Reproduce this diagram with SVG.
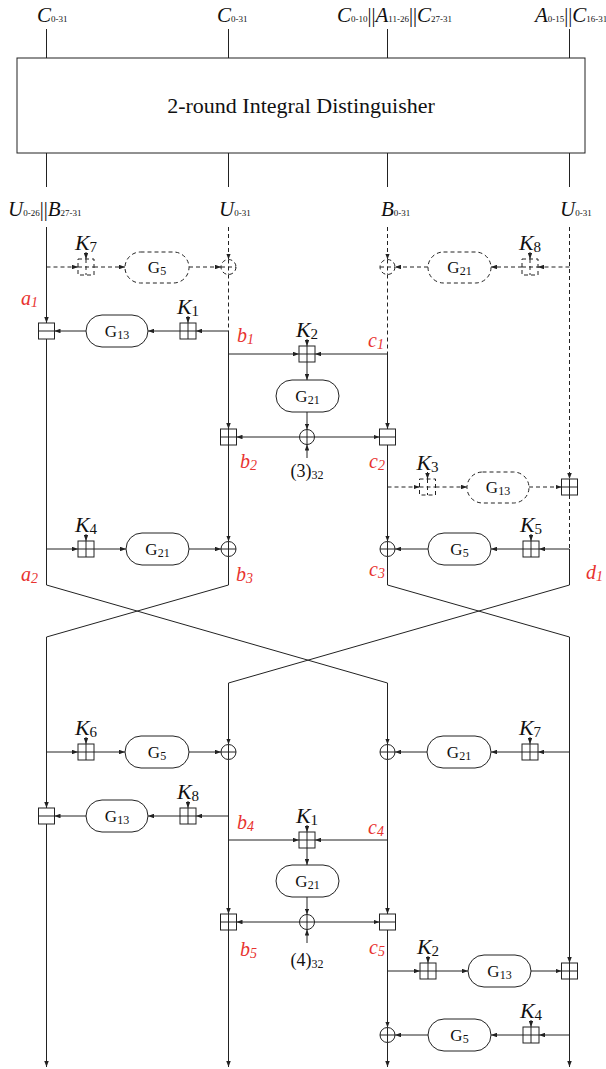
<svg xmlns="http://www.w3.org/2000/svg" xmlns:xlink="http://www.w3.org/1999/xlink" width="606" height="1069" viewBox="0 0 606 1069" font-family="'Liberation Serif','DejaVu Serif',serif">
<style>
.ln{fill:none;stroke:#222;stroke-width:1}
.ar{marker-end:url(#ah)}
.da{stroke-dasharray:4 3}
.nd{fill:#fff;stroke:#222;stroke-width:1}
text{font-family:'Liberation Serif','DejaVu Serif',serif;fill:#111}
.sc{font-size:21px;font-style:italic}
.ss{font-size:9px;font-style:normal}
.bar{font-style:normal;font-size:20px}
.k{font-size:22px;font-style:italic;text-anchor:middle}
.ks{font-size:15px;font-style:normal}
.g{font-size:17px;text-anchor:middle}
.gs{font-size:12px}
.r{font-size:20px;font-style:italic;fill:#e8332f}
.rs{font-size:14px}
.c{font-size:18px;text-anchor:middle}
.cs{font-size:12px}
</style>
<defs>
<marker id="ah" viewBox="0 0 8 6" refX="8" refY="3" markerWidth="6" markerHeight="4.5" markerUnits="userSpaceOnUse" orient="auto"><path d="M0,0L8,3L0,6z" fill="#222"/></marker>
<g id="add"><rect x="-8" y="-8" width="16" height="16"/><path d="M0,-8V8M-8,0H8"/></g>
<g id="sub"><rect x="-8" y="-8" width="16" height="16"/><path d="M-8,0H8"/></g>
<g id="xor"><circle r="7.5"/><path d="M0,-7.5V7.5M-7.5,0H7.5"/></g>
</defs>
<rect width="606" height="1069" fill="#fff"/>

<g id="distinguisher">
<rect x="17" y="58" width="568" height="95" class="nd"/>
<text x="301" y="113" font-size="22" text-anchor="middle">2-round Integral Distinguisher</text>
</g>

<g id="top-labels">
<text x="37" y="22" class="sc">C<tspan class="ss">0-31</tspan></text>
<text x="217" y="22" class="sc">C<tspan class="ss">0-31</tspan></text>
<text x="337" y="22" class="sc">C<tspan class="ss">0-10</tspan><tspan class="bar">||</tspan>A<tspan class="ss">11-26</tspan><tspan class="bar">||</tspan>C<tspan class="ss">27-31</tspan></text>
<text x="535" y="22" class="sc">A<tspan class="ss">0-15</tspan><tspan class="bar">||</tspan>C<tspan class="ss">16-31</tspan></text>
</g>
<g id="mid-labels">
<text x="8" y="216" class="sc">U<tspan class="ss">0-26</tspan><tspan class="bar">||</tspan>B<tspan class="ss">27-31</tspan></text>
<text x="219" y="216" class="sc">U<tspan class="ss">0-31</tspan></text>
<text x="381" y="216" class="sc">B<tspan class="ss">0-31</tspan></text>
<text x="560" y="216" class="sc">U<tspan class="ss">0-31</tspan></text>
</g>

<g id="connectors">
<g class="ln">
<path d="M46.5,29V58M228.5,29V58M387.5,29V58M569.5,29V58M46.5,153V187M228.5,153V187M387.5,153V187M569.5,153V187"/>
<path d="M46.5,339V585M228.5,556.5V585M387.5,556.5V585M569.5,549V585"/>
<path d="M46.5,585L387.5,683M228.5,585L46.5,637M387.5,585L569.5,637M569.5,585L228.5,683"/>
</g>
<g class="ln ar">
<path d="M46.5,227V323"/>
<path d="M228.5,331H196"/><path d="M180,331H148"/><path d="M86,331H54.5"/>
<path d="M228.5,331V429"/><path d="M228.5,445V541.5"/>
<path d="M228.5,354H299"/><path d="M387.5,354H315"/>
<path d="M307,362V380"/><path d="M307,412V429.5"/>
<path d="M299.5,437H236.5"/><path d="M314.5,437H379.5"/><path d="M307,458V444.5"/>
<path d="M387.5,354V429"/><path d="M387.5,445V541.5"/>
<path d="M46.5,549H78"/><path d="M94,549H126"/><path d="M189,549H221"/>
<path d="M569.5,549H539"/><path d="M523,549H491"/><path d="M428,549H395"/>
<path d="M188,316V323"/><path d="M307,339V346"/><path d="M86,534V541"/><path d="M531,534V541"/>
<path d="M86,252V259"/><path d="M530,252V259"/><path d="M427.5,472V479"/>
</g>
<g class="ln da">
<path d="M228.5,274.5V331M387.5,274.5V354M569.5,495V549"/>
</g>
<g class="ln da ar">
<path d="M228.5,227V259.5"/><path d="M387.5,227V259.5"/><path d="M569.5,227V479"/>
<path d="M46.5,267H78"/><path d="M94,267H125"/><path d="M189,267H221"/>
<path d="M569.5,267H538"/><path d="M522,267H491"/><path d="M428,267H395"/>
<path d="M387.5,487H419.5"/><path d="M435.5,487H467"/><path d="M529,487H561.5"/>
</g>
<g class="ln ar">
<path d="M46.5,637V808"/><path d="M46.5,824V1067"/>
<path d="M228.5,683V744.5"/><path d="M228.5,759.5V914"/><path d="M228.5,930V1067"/>
<path d="M387.5,683V744.5"/><path d="M387.5,759.5V914"/><path d="M387.5,930V1027.5"/><path d="M387.5,1042.5V1067"/>
<path d="M569.5,637V963"/><path d="M569.5,979V1067"/>
<path d="M46.5,752H78"/><path d="M94,752H125"/><path d="M189,752H221"/>
<path d="M569.5,752H538"/><path d="M522,752H491"/><path d="M427,752H395"/>
<path d="M228.5,816H196"/><path d="M180,816H148"/><path d="M86,816H54.5"/>
<path d="M228.5,840H299"/><path d="M387.5,840H315"/>
<path d="M307,848V865"/><path d="M307,897V914.5"/>
<path d="M299.5,922H236.5"/><path d="M314.5,922H379.5"/><path d="M307,943V929.5"/>
<path d="M387.5,971H420"/><path d="M436,971H468"/><path d="M531,971H561.5"/>
<path d="M569.5,1035H539"/><path d="M523,1035H491"/><path d="M428,1035H395"/>
<path d="M86,737V744"/><path d="M530,737V744"/><path d="M188,801V808"/><path d="M307,825V832"/>
<path d="M428,956V963"/><path d="M531,1020V1027"/>
</g>
</g>

<g id="k7a"><use xlink:href="#add" x="86" y="267" class="nd da"/><text x="86" y="250" class="k">K<tspan class="ks" dy="2">7</tspan></text></g>
<g id="g5a"><rect x="125" y="252" width="64" height="31" rx="15.5" class="nd da"/><text x="157" y="273" class="g">G<tspan class="gs" dy="2">5</tspan></text></g>
<g id="xa"><use xlink:href="#xor" x="228.5" y="267" class="nd da"/></g>
<g id="xb"><use xlink:href="#xor" x="387.5" y="267" class="nd da"/></g>
<g id="g21a"><rect x="428" y="252" width="63" height="31" rx="15.5" class="nd da"/><text x="459.5" y="273" class="g">G<tspan class="gs" dy="2">21</tspan></text></g>
<g id="k8a"><use xlink:href="#add" x="530" y="267" class="nd da"/><text x="530" y="250" class="k">K<tspan class="ks" dy="2">8</tspan></text></g>

<g id="suba1"><use xlink:href="#sub" x="46.5" y="331" class="nd"/></g>
<g id="g13a"><rect x="86" y="315" width="62" height="32" rx="16" class="nd"/><text x="117" y="337" class="g">G<tspan class="gs" dy="2">13</tspan></text></g>
<g id="k1a"><use xlink:href="#add" x="188" y="331" class="nd"/><text x="188" y="314" class="k">K<tspan class="ks" dy="2">1</tspan></text></g>

<g id="k2a"><use xlink:href="#add" x="307" y="354" class="nd"/><text x="307" y="337" class="k">K<tspan class="ks" dy="2">2</tspan></text></g>
<g id="g21b"><rect x="276" y="380" width="63" height="32" rx="16" class="nd"/><text x="307.5" y="402" class="g">G<tspan class="gs" dy="2">21</tspan></text></g>
<g id="xc"><use xlink:href="#xor" x="307" y="437" class="nd"/></g>
<g id="const3"><text x="307" y="477" class="c">(3)<tspan class="cs" dy="2">32</tspan></text></g>
<g id="addb2"><use xlink:href="#add" x="228.5" y="437" class="nd"/></g>
<g id="subc2"><use xlink:href="#sub" x="387.5" y="437" class="nd"/></g>

<g id="k3a"><use xlink:href="#add" x="427.5" y="487" class="nd da"/><text x="427.5" y="470" class="k">K<tspan class="ks" dy="2">3</tspan></text></g>
<g id="g13b"><rect x="467" y="472" width="62" height="31" rx="15.5" class="nd da"/><text x="498" y="493" class="g">G<tspan class="gs" dy="2">13</tspan></text></g>
<g id="addd"><use xlink:href="#add" x="569.5" y="487" class="nd"/></g>

<g id="k4a"><use xlink:href="#add" x="86" y="549" class="nd"/><text x="86" y="532" class="k">K<tspan class="ks" dy="2">4</tspan></text></g>
<g id="g21c"><rect x="126" y="533" width="63" height="32" rx="16" class="nd"/><text x="157.5" y="555" class="g">G<tspan class="gs" dy="2">21</tspan></text></g>
<g id="xd"><use xlink:href="#xor" x="228.5" y="549" class="nd"/></g>
<g id="xe"><use xlink:href="#xor" x="387.5" y="549" class="nd"/></g>
<g id="g5b"><rect x="428" y="533" width="63" height="32" rx="16" class="nd"/><text x="459.5" y="555" class="g">G<tspan class="gs" dy="2">5</tspan></text></g>
<g id="k5a"><use xlink:href="#add" x="531" y="549" class="nd"/><text x="531" y="532" class="k">K<tspan class="ks" dy="2">5</tspan></text></g>

<g id="k6a"><use xlink:href="#add" x="86" y="752" class="nd"/><text x="86" y="735" class="k">K<tspan class="ks" dy="2">6</tspan></text></g>
<g id="g5c"><rect x="125" y="736" width="64" height="32" rx="16" class="nd"/><text x="157" y="758" class="g">G<tspan class="gs" dy="2">5</tspan></text></g>
<g id="xf"><use xlink:href="#xor" x="228.5" y="752" class="nd"/></g>
<g id="xg"><use xlink:href="#xor" x="387.5" y="752" class="nd"/></g>
<g id="g21d"><rect x="427" y="736" width="64" height="32" rx="16" class="nd"/><text x="459" y="758" class="g">G<tspan class="gs" dy="2">21</tspan></text></g>
<g id="k7b"><use xlink:href="#add" x="530" y="752" class="nd"/><text x="530" y="735" class="k">K<tspan class="ks" dy="2">7</tspan></text></g>

<g id="suba2"><use xlink:href="#sub" x="46.5" y="816" class="nd"/></g>
<g id="g13c"><rect x="86" y="800" width="62" height="32" rx="16" class="nd"/><text x="117" y="822" class="g">G<tspan class="gs" dy="2">13</tspan></text></g>
<g id="k8b"><use xlink:href="#add" x="188" y="816" class="nd"/><text x="188" y="799" class="k">K<tspan class="ks" dy="2">8</tspan></text></g>

<g id="k1b"><use xlink:href="#add" x="307" y="840" class="nd"/><text x="307" y="823" class="k">K<tspan class="ks" dy="2">1</tspan></text></g>
<g id="g21e"><rect x="276" y="865" width="63" height="32" rx="16" class="nd"/><text x="307.5" y="887" class="g">G<tspan class="gs" dy="2">21</tspan></text></g>
<g id="xh"><use xlink:href="#xor" x="307" y="922" class="nd"/></g>
<g id="const4"><text x="307" y="966" class="c">(4)<tspan class="cs" dy="2">32</tspan></text></g>
<g id="addb5"><use xlink:href="#add" x="228.5" y="922" class="nd"/></g>
<g id="subc5"><use xlink:href="#sub" x="387.5" y="922" class="nd"/></g>

<g id="k2b"><use xlink:href="#add" x="428" y="971" class="nd"/><text x="428" y="954" class="k">K<tspan class="ks" dy="2">2</tspan></text></g>
<g id="g13d"><rect x="468" y="955" width="63" height="32" rx="16" class="nd"/><text x="499.5" y="977" class="g">G<tspan class="gs" dy="2">13</tspan></text></g>
<g id="adde"><use xlink:href="#add" x="569.5" y="971" class="nd"/></g>

<g id="xi"><use xlink:href="#xor" x="387.5" y="1035" class="nd"/></g>
<g id="g5d"><rect x="428" y="1019" width="63" height="32" rx="16" class="nd"/><text x="459.5" y="1041" class="g">G<tspan class="gs" dy="2">5</tspan></text></g>
<g id="k4b"><use xlink:href="#add" x="531" y="1035" class="nd"/><text x="531" y="1018" class="k">K<tspan class="ks" dy="2">4</tspan></text></g>

<g id="red-labels">
<text x="21" y="305" class="r">a<tspan class="rs" dy="2">1</tspan></text>
<text x="237" y="342" class="r">b<tspan class="rs" dy="2">1</tspan></text>
<text x="368" y="347" class="r">c<tspan class="rs" dy="2">1</tspan></text>
<text x="240" y="468" class="r">b<tspan class="rs" dy="2">2</tspan></text>
<text x="369" y="468" class="r">c<tspan class="rs" dy="2">2</tspan></text>
<text x="21" y="581" class="r">a<tspan class="rs" dy="2">2</tspan></text>
<text x="236" y="581" class="r">b<tspan class="rs" dy="2">3</tspan></text>
<text x="369" y="576" class="r">c<tspan class="rs" dy="2">3</tspan></text>
<text x="586" y="579" class="r">d<tspan class="rs" dy="2">1</tspan></text>
<text x="237" y="829" class="r">b<tspan class="rs" dy="2">4</tspan></text>
<text x="368" y="834" class="r">c<tspan class="rs" dy="2">4</tspan></text>
<text x="240" y="956" class="r">b<tspan class="rs" dy="2">5</tspan></text>
<text x="369" y="954" class="r">c<tspan class="rs" dy="2">5</tspan></text>
</g>
</svg>
